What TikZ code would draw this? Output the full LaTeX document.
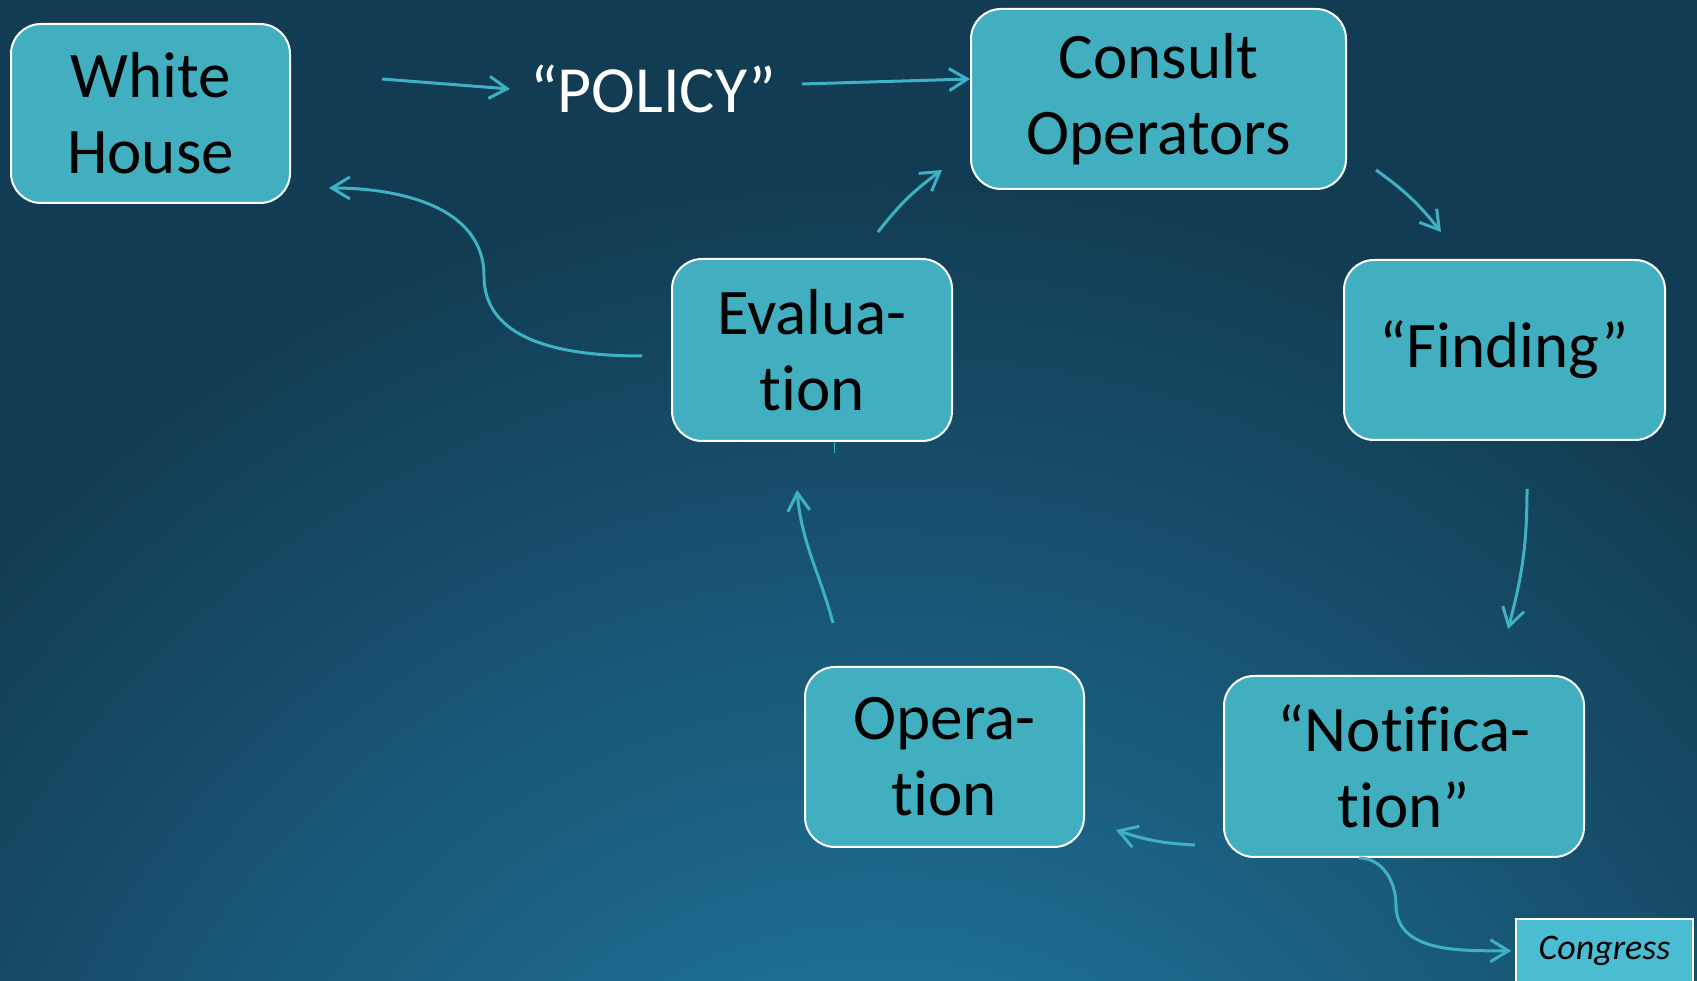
\documentclass[tikz,border=0pt]{standalone}
\usepackage{fontspec}
\setmainfont{Carlito}[Ligatures=NoCommon]
\usepackage{xcolor}
\usetikzlibrary{arrows.meta}

\definecolor{bgdark}{HTML}{123C53}
\definecolor{bglight}{HTML}{1E6D93}
\definecolor{boxfill}{HTML}{41AFBF}
\definecolor{congfill}{HTML}{4BBDD2}
\definecolor{flowcol}{HTML}{3FB1C5}
\pgfdeclareradialshading{bgglow}{\pgfpoint{0bp}{0bp}}{color(0bp)=(bglight); color(5bp)=(bglight); color(15bp)=(bgdark); color(50bp)=(bgdark)}

\begin{document}
\begin{tikzpicture}[x=1pt,y=1pt,
  stage/.style={draw=white, line width=2pt, fill=boxfill, rounded corners=30pt,
    align=center, inner sep=0pt, font=\fontsize{65}{76}\selectfont},
  flow/.style={draw=flowcol, line width=3pt,
    -{Straight Barb[length=18pt,width=22pt]}}]
\useasboundingbox (0,0) rectangle (1697,980);
\clip (0,0) rectangle (1697,980);
\shade[shading=bgglow] (880,-400) circle (2000);

% boxes
\node[stage, minimum width=279pt, minimum height=179pt] (wh) at (150.5,866.5) {White\\House};
\node[font=\fontsize{66}{76}\selectfont, text=white, inner sep=0pt] (policy) at (653,891) {“POLICY”};
\node[stage, minimum width=375pt, minimum height=180pt] (consult) at (1158.5,881) {Consult\\Operators};
\node[stage, minimum width=321pt, minimum height=180pt] (finding) at (1504.5,630) {“Finding”};
\node[stage, minimum width=280pt, minimum height=182pt] (eval) at (812,630) {Evalua-\\tion};
\node[stage, minimum width=279pt, minimum height=180pt] (oper) at (944.5,223) {Opera-\\tion};
\node[stage, minimum width=360pt, minimum height=181pt] (notif) at (1404,213.5) {“Notifica-\\tion”};
\node[draw=white, line width=1.5pt, fill=congfill, minimum width=177pt, minimum height=64pt,
  anchor=north, font=\fontsize{36}{40}\selectfont\itshape] (cong) at (1604.5,62) {Congress};

% arrows
\draw[flow] ([xshift=91pt,yshift=34.5pt]wh.east) -- ([xshift=-20pt]policy.west);
\draw[flow] ([xshift=26pt,yshift=5pt]policy.east) -- ([yshift=20pt]consult.west);
\draw[flow] ([xshift=29pt,yshift=20pt]consult.south east) to[bend left=8] ([xshift=98pt,yshift=27pt]finding.north west);
\draw[flow] ([xshift=22.5pt,yshift=-48pt]finding.south) to[out=-90,in=75] ([xshift=104pt,yshift=46pt]notif.north);
\draw[flow] ([xshift=-28pt,yshift=13pt]notif.south west) to[bend left=8] ([xshift=31pt,yshift=18pt]oper.south east);
\draw[flow] ([xshift=-111.5pt,yshift=43pt]oper.north) to[out=105,in=-85] ([xshift=-15pt,yshift=-48pt]eval.south);
\draw[flow] ([xshift=-75pt,yshift=26pt]eval.north east) to[bend left=8] ([xshift=-28pt,yshift=20pt]consult.south west);
\draw[flow] ([xshift=-29pt,yshift=-6pt]eval.west) to[out=180,in=-90] ++(-158,80)
  to[out=90,in=0] ([xshift=38pt,yshift=16pt]wh.south east);
\draw[flow] ([xshift=-45pt]notif.south) to[out=0,in=90] ++(37,-47)
  to[out=-90,in=180] ([xshift=-4pt]cong.west);
\draw[flowcol, line width=1pt] ([xshift=22pt]eval.south) -- ++(0,-11);
\end{tikzpicture}
\end{document}
